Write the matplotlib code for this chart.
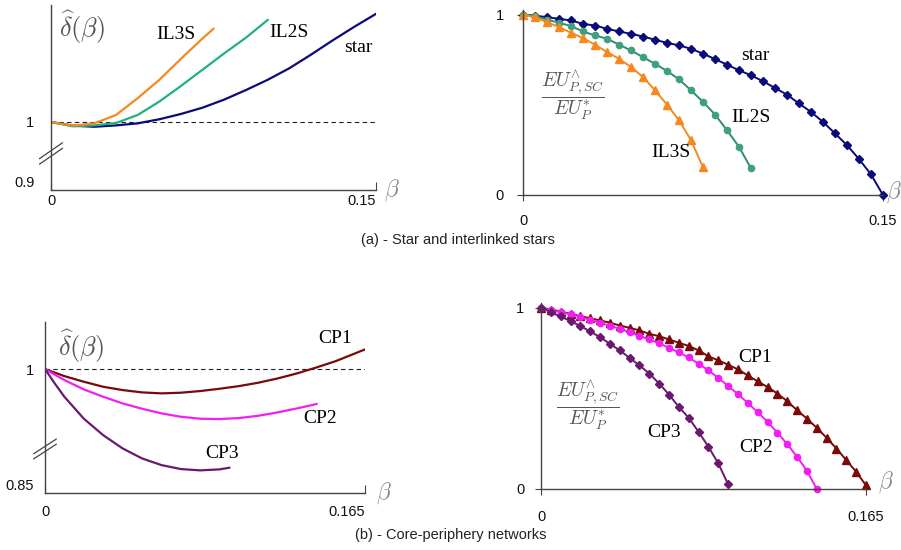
import matplotlib
matplotlib.use('Agg')
import matplotlib.pyplot as plt
import numpy as np

# ~~~ DATA ~~~~~~~~~~~~~~~~~~~~~~~~~~~~~~~~~~~~~~~~~~~~~~~~~~~~~~~~~~~~~~~~~~~
# (a) delta_hat(beta), star and interlinked stars
beta_star_a = [0, 0.01, 0.02, 0.03, 0.04, 0.05, 0.06, 0.07, 0.08, 0.09, 0.10,
               0.11, 0.12, 0.13, 0.14, 0.15]
delta_star = [1.0, 0.9946, 0.993, 0.995, 0.998, 1.004, 1.0118, 1.0211, 1.033,
              1.047, 1.062, 1.079, 1.099, 1.120, 1.140, 1.159]
beta_il2s_a = [0, 0.01, 0.02, 0.03, 0.04, 0.05, 0.06, 0.07, 0.08, 0.09, 0.10]
delta_il2s = [1.0, 0.9936, 0.995, 0.9985, 1.0103, 1.030, 1.053, 1.077, 1.101,
              1.124, 1.150]
beta_il3s_a = [0, 0.01, 0.02, 0.03, 0.04, 0.05, 0.06, 0.07, 0.075]
delta_il3s = [1.0, 0.9946, 0.998, 1.0103, 1.035, 1.062, 1.093, 1.123, 1.137]

# (a) EU ratio, step 0.005
eu_star = [1.0, 0.994, 0.985, 0.976, 0.967, 0.948, 0.939, 0.921, 0.906, 0.893,
           0.878, 0.860, 0.843, 0.829, 0.810, 0.783, 0.753, 0.722, 0.691,
           0.663, 0.630, 0.593, 0.556, 0.507, 0.460, 0.405, 0.341, 0.276,
           0.199, 0.114, 0.0]
eu_il2s = [1.0, 0.991, 0.972, 0.954, 0.936, 0.906, 0.884, 0.866, 0.833, 0.801,
           0.764, 0.727, 0.687, 0.641, 0.580, 0.516, 0.446, 0.359, 0.267,
           0.147]
eu_il3s = [1.0, 0.985, 0.958, 0.930, 0.899, 0.869, 0.833, 0.792, 0.755, 0.709,
           0.654, 0.580, 0.501, 0.414, 0.304, 0.153]

# (b) delta_hat(beta), core-periphery
beta_cp1_b = [0, 0.01, 0.02, 0.03, 0.04, 0.05, 0.06, 0.07, 0.08, 0.09, 0.10,
              0.11, 0.12, 0.13, 0.14, 0.15, 0.165]
delta_cp1 = [1.0, 0.9915, 0.9847, 0.9786, 0.9746, 0.9718, 0.9706, 0.9714,
             0.9734, 0.9762, 0.9794, 0.9835, 0.9887, 0.9948, 1.002, 1.0097,
             1.0238]
beta_cp2_b = [0, 0.01, 0.02, 0.03, 0.04, 0.05, 0.06, 0.07, 0.08, 0.09, 0.10,
              0.11, 0.12, 0.13, 0.14]
delta_cp2 = [1.0, 0.9867, 0.9754, 0.9665, 0.9585, 0.952, 0.9464, 0.9423,
             0.9399, 0.9395, 0.9407, 0.9435, 0.9476, 0.9524, 0.9577]
beta_cp3_b = [0, 0.005, 0.01, 0.02, 0.03, 0.04, 0.05, 0.06, 0.07, 0.08, 0.09,
              0.095]
delta_cp3 = [1.0, 0.9827, 0.9665, 0.940, 0.920, 0.904, 0.8919, 0.8838, 0.879,
             0.8774, 0.8786, 0.8806]

# (b) EU ratio, step 0.005
eu_cp1 = [1.0, 0.989, 0.978, 0.965, 0.952, 0.941, 0.929, 0.916, 0.901, 0.888,
          0.874, 0.855, 0.842, 0.824, 0.806, 0.788, 0.764, 0.731, 0.709,
          0.685, 0.659, 0.626, 0.593, 0.562, 0.526, 0.484, 0.434, 0.388,
          0.337, 0.282, 0.223, 0.159, 0.095, 0.02]
eu_cp2 = [1.0, 0.985, 0.974, 0.962, 0.947, 0.932, 0.916, 0.899, 0.883, 0.864,
          0.844, 0.824, 0.802, 0.778, 0.753, 0.725, 0.690, 0.654, 0.612,
          0.568, 0.522, 0.474, 0.423, 0.370, 0.311, 0.247, 0.178, 0.100, 0.0]
eu_cp3 = [1.0, 0.974, 0.951, 0.925, 0.898, 0.868, 0.837, 0.800, 0.764, 0.722,
          0.681, 0.636, 0.581, 0.520, 0.452, 0.392, 0.315, 0.233, 0.141,
          0.026]

step = 0.005

# ~~~ STYLE ~~~~~~~~~~~~~~~~~~~~~~~~~~~~~~~~~~~~~~~~~~~~~~~~~~~~~~~~~~~~~~~~~~
plt.rcParams['font.family'] = 'Liberation Sans'
plt.rcParams['mathtext.fontset'] = 'cm'
W, H = 901, 550
AXC = '#444444'
SERIF = 'Liberation Serif'
FRAC = r'$\dfrac{EU^{\wedge}_{P,SC}}{EU^{*}_{P}}$'
DELTA = r'$\widehat{\delta}(\beta)$'

c_star = '#0a0a7a'
c_il2s_l = '#1fb27a'
c_il2s_r = '#2e8c74'
c_il3s = '#f5891e'
c_cp1 = '#7a0a0a'
c_cp2 = '#f21ef2'
c_cp3 = '#6a1870'

fig = plt.figure(figsize=(W / 100, H / 100), dpi=100)


def add_ax(left, top, right, bottom):
    return fig.add_axes([left / W, 1 - bottom / H, (right - left) / W,
                         (bottom - top) / H])


def style(ax):
    for s in ('top', 'right'):
        ax.spines[s].set_visible(False)
    for s in ('left', 'bottom'):
        ax.spines[s].set_color(AXC)
        ax.spines[s].set_linewidth(1.0)
    ax.tick_params(colors=AXC, labelcolor='#111111', labelsize=10.5)


def break_mark(ax, y0):
    for dy in (0.0, 0.03):
        ax.plot([-0.035, 0.035], [y0 + dy, y0 + 0.085 + dy], color=AXC,
                lw=0.9, transform=ax.transAxes, clip_on=False)


def label(ax, x, y, s):
    ax.text(x, y, s, fontfamily=SERIF, fontsize=14, ha='center', va='center')


# ~~~ PANEL (a) LEFT ~~~~~~~~~~~~~~~~~~~~~~~~~~~~~~~~~~~~~~~~~~~~~~~~~~~~~~~~~
ax = add_ax(51, 5, 376, 190)
style(ax)
ax.set_xlim(0, 0.15)
ax.set_ylim(0.9, 1.172)
ax.axhline(1, color='#222222', lw=0.8, ls=(0, (4, 3)))
ax.plot(beta_star_a, delta_star, color=c_star, lw=1.6)
ax.plot(beta_il2s_a, delta_il2s, color=c_il2s_l, lw=1.6)
ax.plot(beta_il3s_a, delta_il3s, color=c_il3s, lw=1.6)
ax.set_xticks([0, 0.15], ['0', '0.15'])
ax.set_yticks([0.9, 1], ['0.9', '1'])
ax.tick_params(axis='y', length=0, pad=12)
ax.tick_params(axis='x', direction='in', length=6, pad=3)
ax.get_yticklabels()[0].set_verticalalignment('bottom')
ax.get_xticklabels()[1].set_horizontalalignment('right')
break_mark(ax, 0.14)
ax.text(0.025, 0.985, DELTA, transform=ax.transAxes,
        fontsize=19, color='#555555', va='top', ha='left')
ax.text(1.05, 0.0, r'$\beta$', transform=ax.transAxes, fontsize=17,
        color='#888888', va='center', ha='center')
label(ax, 0.0577, 1.128, 'IL3S')
label(ax, 0.110, 1.131, 'IL2S')
label(ax, 0.142, 1.109, 'star')

# ~~~ PANEL (a) RIGHT ~~~~~~~~~~~~~~~~~~~~~~~~~~~~~~~~~~~~~~~~~~~~~~~~~~~~~~~~
ax = add_ax(523, 10, 883, 195)
style(ax)
ax.set_xlim(0, 0.15)
ax.set_ylim(0, 1.025)
b = np.arange(len(eu_star)) * step
ax.plot(b, eu_star, color=c_star, lw=1.4, marker='D', ms=4, clip_on=False)
b = np.arange(len(eu_il2s)) * step
ax.plot(b, eu_il2s, color=c_il2s_r, lw=1.4, marker='o', ms=4.5,
        mfc='#3fa07e', mec='#3fa07e', clip_on=False)
b = np.arange(len(eu_il3s)) * step
ax.plot(b, eu_il3s, color=c_il3s, lw=1.4, marker='^', ms=6, clip_on=False)
ax.set_xticks([0, 0.15], ['0', '0.15'])
ax.set_yticks([0, 1], ['0', '1'])
ax.tick_params(length=4, pad=10)
ax.text(0.021, 0.55, FRAC, fontsize=14, color='#555555', ha='center',
        va='center')
ax.text(1.03, 0.015, r'$\beta$', transform=ax.transAxes, fontsize=17,
        color='#888888', va='center', ha='center')
label(ax, 0.0967, 0.773, 'star')
label(ax, 0.095, 0.431, 'IL2S')
label(ax, 0.0617, 0.238, 'IL3S')

fig.text(458 / W, 1 - 240 / H, '(a) - Star and interlinked stars',
         fontsize=10.5, color='#222222', ha='center', va='center')

# ~~~ PANEL (b) LEFT ~~~~~~~~~~~~~~~~~~~~~~~~~~~~~~~~~~~~~~~~~~~~~~~~~~~~~~~~~
ax = add_ax(45, 322, 365, 493)
style(ax)
ax.set_xlim(0, 0.165)
ax.set_ylim(0.85, 1.057)
ax.axhline(1, color='#222222', lw=0.8, ls=(0, (4, 3)))
ax.plot(beta_cp1_b, delta_cp1, color=c_cp1, lw=1.6)
ax.plot(beta_cp2_b, delta_cp2, color=c_cp2, lw=1.6)
ax.plot(beta_cp3_b, delta_cp3, color=c_cp3, lw=1.6)
ax.set_xticks([0, 0.165], ['0', '0.165'])
ax.set_yticks([0.85, 1], ['0.85', '1'])
ax.tick_params(axis='y', length=0, pad=8)
ax.tick_params(axis='x', direction='in', length=6, pad=9)
ax.get_yticklabels()[0].set_verticalalignment('bottom')
ax.get_xticklabels()[1].set_horizontalalignment('right')
break_mark(ax, 0.2)
ax.text(0.04, 0.97, DELTA, transform=ax.transAxes,
        fontsize=19, color='#555555', va='top', ha='left')
ax.text(1.06, 0.0, r'$\beta$', transform=ax.transAxes, fontsize=17,
        color='#888888', va='center', ha='center')
label(ax, 0.1495, 1.0375, 'CP1')
label(ax, 0.1418, 0.9407, 'CP2')
label(ax, 0.0913, 0.8984, 'CP3')

# ~~~ PANEL (b) RIGHT ~~~~~~~~~~~~~~~~~~~~~~~~~~~~~~~~~~~~~~~~~~~~~~~~~~~~~~~~
ax = add_ax(541, 303, 866, 489)
style(ax)
ax.set_xlim(0, 0.165)
ax.set_ylim(0, 1.025)
b = np.arange(len(eu_cp1)) * step
ax.plot(b, eu_cp1, color=c_cp1, lw=1.4, marker='^', ms=5.5, clip_on=False)
b = np.arange(len(eu_cp2)) * step
ax.plot(b, eu_cp2, color=c_cp2, lw=1.4, marker='o', ms=4.5, clip_on=False)
b = np.arange(len(eu_cp3)) * step
ax.plot(b, eu_cp3, color=c_cp3, lw=1.4, marker='D', ms=4, clip_on=False)
ax.set_xticks([0, 0.165], ['0', '0.165'])
ax.set_yticks([0, 1], ['0', '1'])
ax.tick_params(axis='x', length=4, pad=11)
ax.tick_params(axis='y', length=4, pad=8)
ax.text(0.0239, 0.462, FRAC, fontsize=14, color='#555555', ha='center',
        va='center')
ax.text(1.06, 0.035, r'$\beta$', transform=ax.transAxes, fontsize=17,
        color='#888888', va='center', ha='center')
label(ax, 0.1086, 0.725, 'CP1')
label(ax, 0.1092, 0.231, 'CP2')
label(ax, 0.0624, 0.313, 'CP3')

fig.text(451 / W, 1 - 535 / H, '(b) - Core-periphery networks',
         fontsize=10.5, color='#222222', ha='center', va='center')

fig.savefig('out.png', dpi=100)
